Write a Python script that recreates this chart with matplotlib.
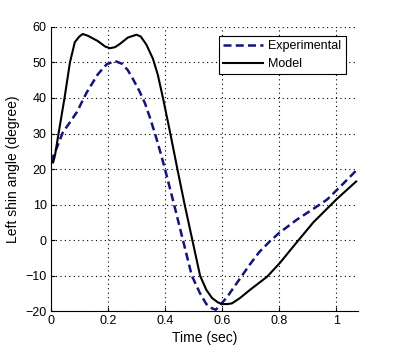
import numpy as np
import matplotlib
matplotlib.use("Agg")
import matplotlib.pyplot as plt

plt.rcParams['font.family'] = ['Liberation Sans', 'DejaVu Sans']

# experimental curve
t_exp = [0.0, 0.014, 0.042, 0.07, 0.091, 0.126, 0.165, 0.196, 0.225, 0.25, 0.27, 0.288,
         0.31, 0.33, 0.348, 0.365, 0.383, 0.40, 0.432, 0.463, 0.494, 0.523, 0.545,
         0.565, 0.578, 0.59, 0.618, 0.65, 0.698, 0.73, 0.768, 0.80, 0.863, 0.92,
         0.968, 1.02, 1.074]
y_exp = [22.0, 24.6, 30.3, 33.5, 36.0, 41.6, 46.7, 49.5, 50.4, 49.6, 47.8, 45.3,
         42.0, 38.5, 34.3, 30.0, 25.0, 20.0, 10.0, 0.0, -10.0, -15.0, -18.0,
         -19.2, -19.6, -18.6, -16.0, -12.3, -6.8, -3.4, -0.3, 2.0, 5.8, 8.8,
         11.4, 15.5, 19.9]

# model curve
t_mod = [0.0, 0.008, 0.015, 0.025, 0.049, 0.067, 0.084, 0.1, 0.112, 0.13, 0.165, 0.19,
         0.207, 0.225, 0.242, 0.27, 0.3, 0.315, 0.335, 0.358, 0.375, 0.393, 0.418,
         0.446, 0.469, 0.496, 0.523, 0.545, 0.565, 0.585, 0.60, 0.62, 0.635, 0.663,
         0.698, 0.758, 0.803, 0.86, 0.92, 1.0, 1.07]
y_mod = [22.5, 21.8, 24.0, 29.0, 40.5, 50.0, 55.7, 57.3, 58.0, 57.5, 56.0, 54.5,
         54.0, 54.3, 55.2, 57.0, 57.8, 57.3, 55.0, 51.0, 46.5, 40.0, 30.3,
         19.0, 10.0, 0.0, -10.0, -14.0, -16.3, -17.5, -18.0, -18.0, -17.8, -16.3,
         -14.0, -10.3, -6.4, -0.8, 5.0, 11.4, 16.5]

fig = plt.figure(figsize=(3.94, 3.54), dpi=100)
ax = fig.add_axes([0.129, 0.121, 0.78, 0.803])

ax.plot(t_exp, y_exp, '--', color='#14147a', lw=1.8, dashes=(3.2, 1.7), label='Experimental')
ax.plot(t_mod, y_mod, '-', color='black', lw=1.5, label='Model')

ax.set_xlim(0, 1.077)
ax.set_ylim(-20, 60)
ax.set_xticks([0, 0.2, 0.4, 0.6, 0.8, 1.0])
ax.set_xticklabels(['0', '0.2', '0.4', '0.6', '0.8', '1'])
ax.set_yticks(np.arange(-20, 61, 10))
ax.tick_params(direction='in', labelsize=9, length=3, pad=3)
ax.grid(True, linestyle=(0, (1, 3)), color='black', lw=0.8)
ax.spines['top'].set_visible(False)
ax.spines['right'].set_visible(False)

ax.set_xlabel('Time (sec)', fontsize=10, labelpad=3)
ax.set_ylabel('Left shin angle (degree)', fontsize=10, labelpad=4)

leg = ax.legend(loc='upper right', bbox_to_anchor=(0.98, 0.99), fontsize=9,
                fancybox=False, framealpha=1, edgecolor='black', handlelength=3.2,
                borderpad=0.35, labelspacing=0.45, handletextpad=0.4)
leg.get_frame().set_linewidth(0.8)

fig.savefig('out.png', dpi=100)
